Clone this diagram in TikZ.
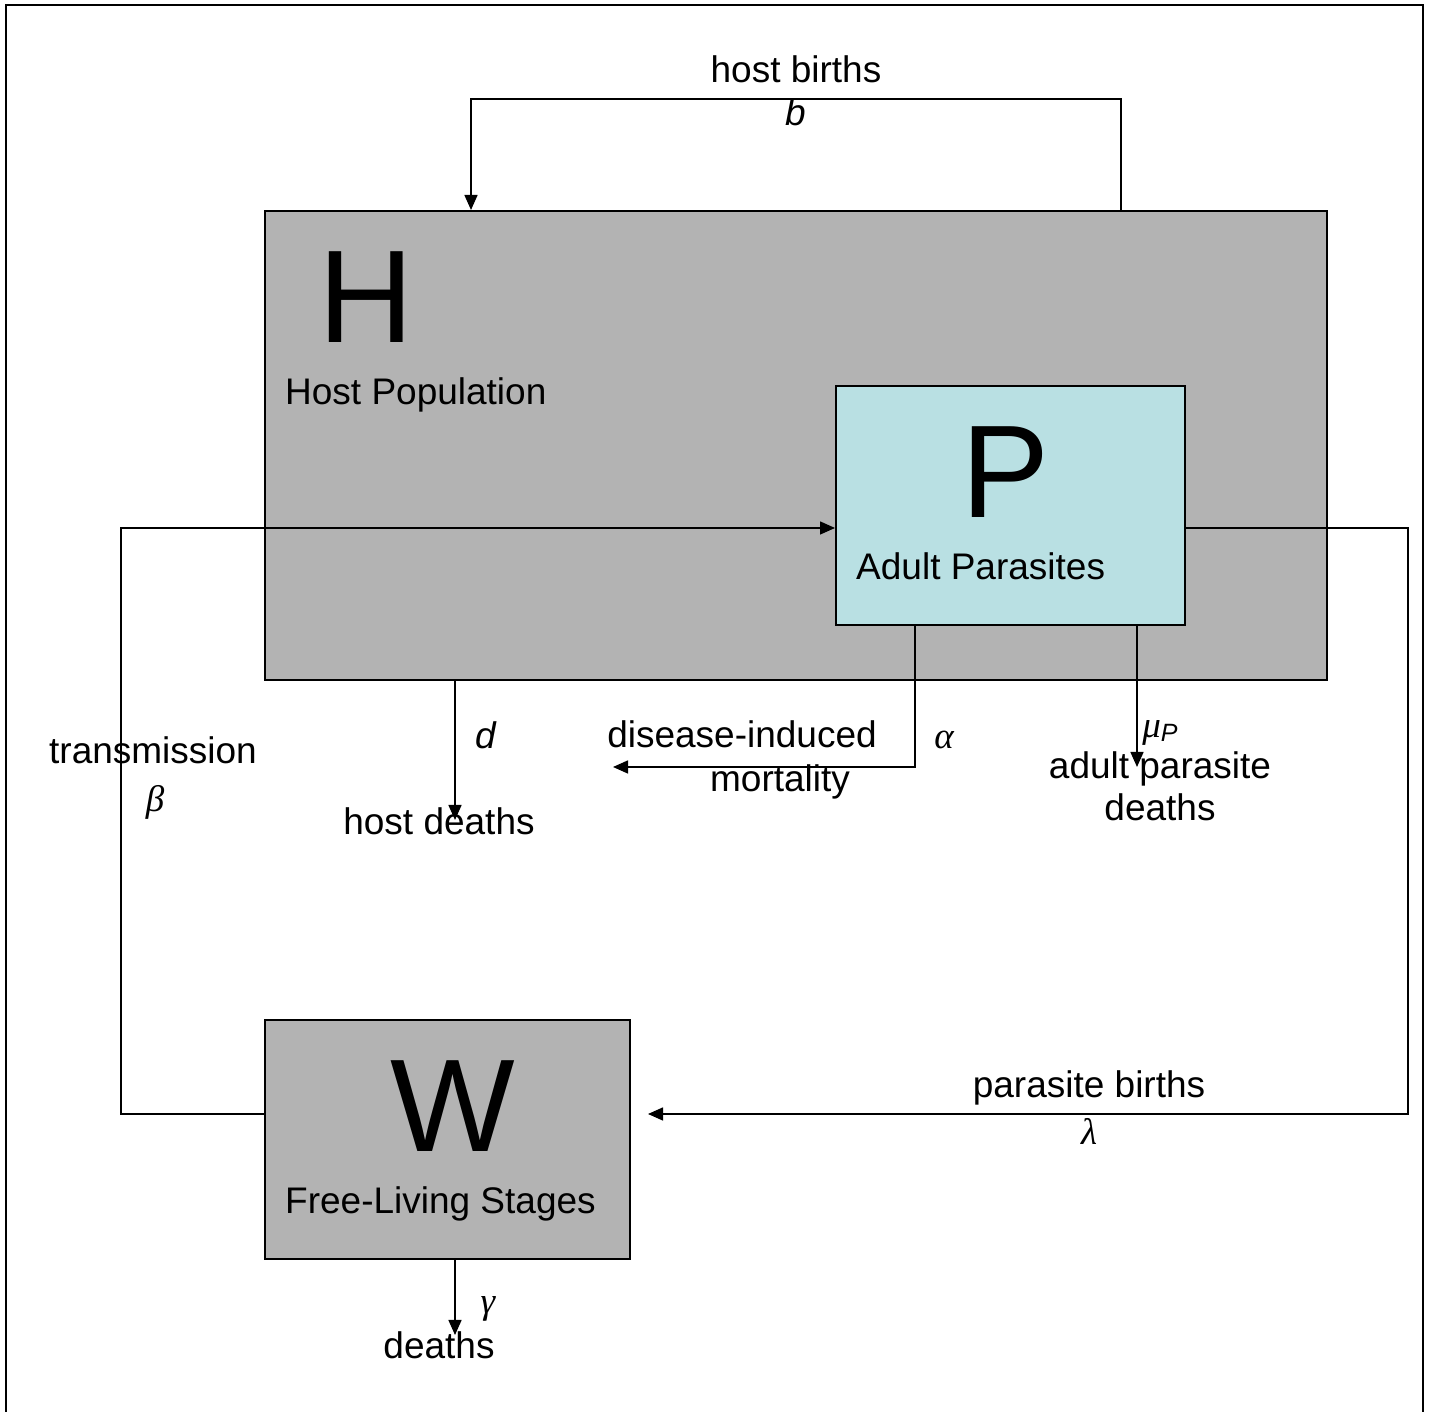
\documentclass[tikz,border=0pt]{standalone}
\usepackage{fontspec}
\setmainfont{Liberation Sans}
\newfontfamily\grk{Liberation Serif}
\usepackage{xcolor}
\usetikzlibrary{arrows.meta}

\definecolor{hostgray}{RGB}{179,179,179}
\definecolor{paracyan}{RGB}{185,224,227}

\tikzset{
  compartment/.style={draw, line width=2pt, inner sep=0pt},
  flow/.style={-{Triangle[length=15pt,width=13pt]}, line width=1.5pt},
  link/.style={line width=1.5pt},
  lbl/.style={font=\fontsize{37}{42}\selectfont, inner sep=0pt, anchor=base, yshift=-2pt},
  biglbl/.style={font=\fontsize{132}{132}\selectfont, inner sep=0pt, anchor=base},
}
\newcommand{\gk}[1]{{\grk\itshape #1}}

\begin{document}
\begin{tikzpicture}[x=1pt,y=1pt]
			\useasboundingbox (0,0) rectangle (1431,1412);
			% frame
			\draw[line width=2.5pt] (6,-10) -- (6,1407) -- (1423,1407) -- (1423,-10);

			% compartments
			\node[compartment, fill=hostgray, minimum width=1062pt, minimum height=469pt] (host) at (796,966.5) {};
			\node[compartment, fill=paracyan, minimum width=349pt, minimum height=239pt] (para) at (1010.5,906.5) {};
			\node[compartment, fill=hostgray, minimum width=365pt, minimum height=239pt] (free) at (447.5,272.5) {};

			\node[biglbl] (H) at (366,1069) {H};
			\node[lbl, anchor=base west] (hostname) at (285,1009) {Host Population};
			\node[biglbl] (P) at (1006,894) {P};
			\node[lbl, anchor=base west] (paraname) at (856,834) {Adult Parasites};
			\node[biglbl] (W) at (453,260) {W};
			\node[lbl, anchor=base west] (freename) at (285,200) {Free-Living Stages};

			% end points of the outflows
			\coordinate (hostdead) at (455,592);
			\coordinate (virdead) at (613,645);
			\coordinate (paradead) at (1137,645);
			\coordinate (freedead) at (455,77);

			% host births
			\draw[flow] ([xshift=325pt]host.north) -- ++(0,111) -| ([xshift=-325pt]host.north);
			\node[lbl] (births) at (796,1331) {host births};
			\node[lbl] (b) at (796,1288) {\textit{b}};

			% transmission
			\draw[flow] ([yshift=25.5pt]free.west) -- ++(-143,0) |- ([yshift=-22.5pt]para.west);
			\node[lbl] (trans) at (153,650) {transmission};
			\node[lbl] (beta) at (155,602) {\gk{β}};

			% parasite births
			\draw[flow] ([yshift=-22.5pt]para.east) -- ++(222,0) |- ([xshift=17pt,yshift=25.5pt]free.east);
			\node[lbl] (pbirths) at (1089,316) {parasite births};
			\node[lbl] (lambda) at (1089,269) {\gk{λ}};

			% deaths
			\draw[flow] (host.south -| hostdead) -- (hostdead);
			\node[lbl] (d) at (486,665) {\textit{d}};
			\node[lbl] (hdeaths) at (439,579) {host deaths};

			\draw[flow] (para.south -| 915,0) |- (virdead);
			\node[lbl] (vir1) at (742,666) {disease-induced};
			\node[lbl] (vir2) at (780,622) {mortality};
			\node[lbl] (alpha) at (944,665) {\gk{α}};

			\draw[flow] (para.south -| paradead) -- (paradead);
			\node[lbl] (mu) at (1160,676) {\gk{μ}\raisebox{-4pt}{\fontsize{25}{25}\selectfont\itshape P}};
			\node[lbl] (pd1) at (1160,635) {adult parasite};
			\node[lbl] (pd2) at (1160,593) {deaths};

			\draw[flow] (free.south -| freedead) -- (freedead);
			\node[lbl] (gamma) at (488,100) {\gk{γ}};
			\node[lbl] (fdeaths) at (439,55) {deaths};
\end{tikzpicture}
\end{document}
